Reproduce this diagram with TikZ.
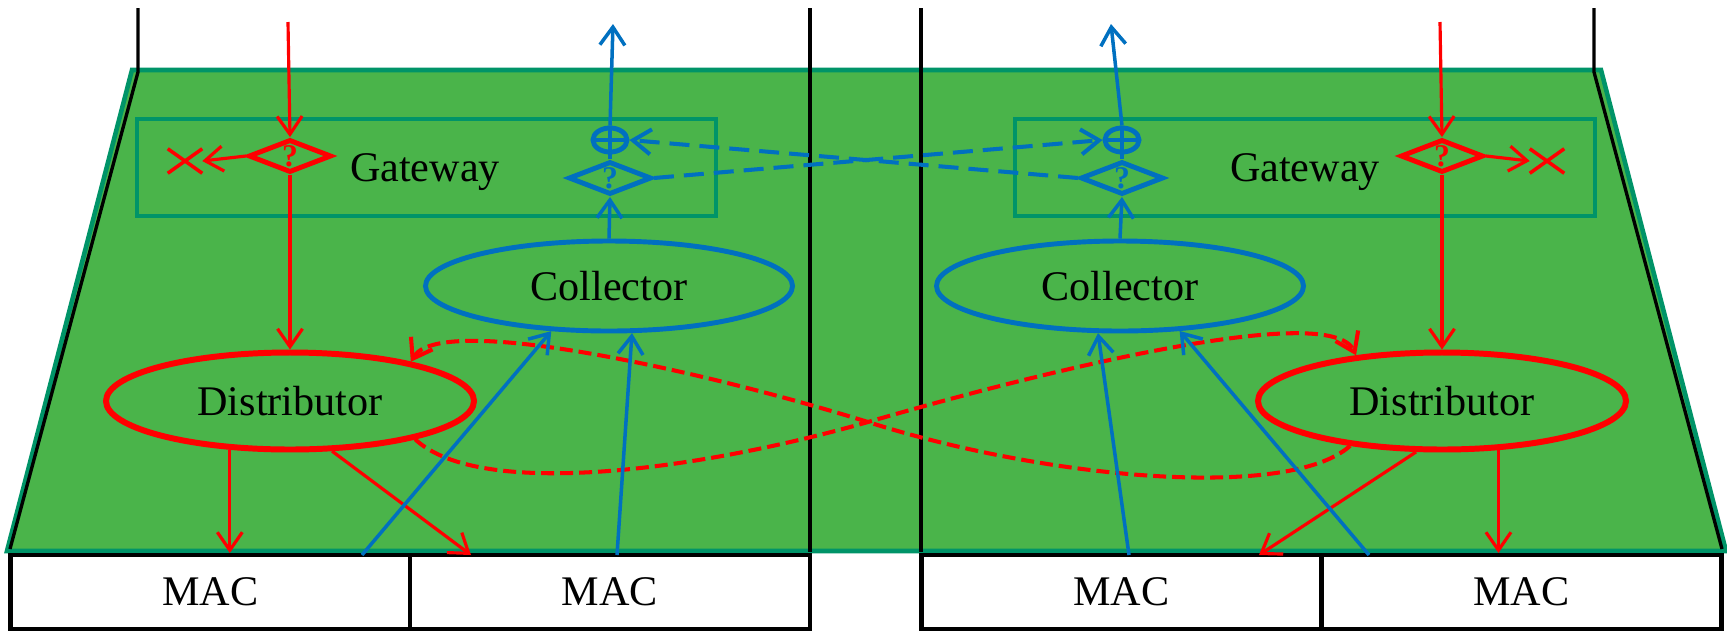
\documentclass[tikz,border=0pt]{standalone}
\usepackage{fontspec}
\setmainfont{Liberation Serif}
\usetikzlibrary{shapes.geometric, shapes.misc, arrows.meta}

\definecolor{boardgreen}{RGB}{74,180,74}
\definecolor{boardedge}{RGB}{0,148,104}
\definecolor{flowblue}{RGB}{0,112,192}

\tikzset{
  redline/.style={red, line width=0.9pt},
  blueline/.style={flowblue, line width=1pt},
  tip/.style={-{Straight Barb[length=1.8mm,width=2.5mm]}},
  reddash/.style={line width=1.15pt, dash pattern=on 1.3mm off 0.6mm},
  bluedash/.style={line width=1.15pt, dash pattern=on 2mm off 1mm},
  wall/.style={black, line width=0.95pt},
  gwbox/.style={rectangle, draw=boardedge, line width=1.15pt, inner sep=0pt},
  distnode/.style={ellipse, draw=red, line width=1.7pt, minimum width=36.8mm, minimum height=9.7mm},
  collnode/.style={ellipse, draw=flowblue, line width=1.4pt, minimum width=36.7mm, minimum height=9mm},
  redq/.style={diamond, draw=red, text=red, line width=1.4pt, font=\fontsize{9}{9}\selectfont\bfseries,
    inner sep=0pt, shape aspect=2.5, minimum width=8.3mm, minimum height=3.3mm},
  blueq/.style={redq, draw=flowblue, text=flowblue},
  plusnode/.style={ellipse, draw=flowblue, line width=1.4pt, inner sep=0pt, minimum width=3.4mm, minimum height=2.4mm},
  dropnode/.style={cross out, draw=red, line width=1pt, inner sep=0pt, minimum width=3.1mm, minimum height=2.1mm},
  macbox/.style={rectangle, draw=black, fill=white, line width=1.15pt, inner sep=0pt, minimum width=40mm, minimum height=7.4mm},
}

\begin{document}
\begin{tikzpicture}[x=0.1mm, y=-0.1mm, font=\fontsize{12}{14}\selectfont]
        \useasboundingbox (0,0) rectangle (1727,631);

        % board and walls
        \filldraw[fill=boardgreen, draw=boardedge, line width=1.3pt]
            (132,70) -- (1601,70) -- (1726,551) -- (7,551) -- cycle;
        \draw[wall] (138,8) -- (138,72) -- (10,549);
        \draw[wall] (1594,8) -- (1594,72) -- (1722,549);
        \draw[wall] (810,8) -- (810,552);
        \draw[wall] (921,8) -- (921,552);

        % gateways
        \node[gwbox, minimum width=57.9mm, minimum height=9.7mm] (gw1) at (426.5,167.5) {};
        \node[gwbox, minimum width=58mm, minimum height=9.7mm] (gw2) at (1305,167.5) {};
        \node (gw1t) at (425,172) {Gateway};
        \node (gw2t) at (1305,172) {Gateway};

        \node[redq] (rq1) at (290,156) {?};
        \node[redq] (rq2) at (1442,156) {?};
        \node[dropnode] (drop1) at (185,161) {};
        \node[dropnode] (drop2) at (1547,161) {};

        \node[plusnode] (op1) at (610,140) {};
        \node[plusnode] (op2) at (1122,140) {};
        \node[blueq] (bq1) at (610,178) {?};
        \node[blueq] (bq2) at (1122,178) {?};

        % collectors and distributors
        \node[collnode] (col1) at (609,286) {Collector};
        \node[collnode] (col2) at (1120,286) {Collector};
        \node[distnode] (dist1) at (290,401) {Distributor};
        \node[distnode] (dist2) at (1442,401) {Distributor};

        % MAC row
        \node[macbox] (mac1) at (210.5,592) {MAC};
        \node[macbox] (mac2) at (610,592) {MAC};
        \node[macbox] (mac3) at (1121.5,592) {MAC};
        \node[macbox] (mac4) at (1521.5,592) {MAC};

        \coordinate (redin1) at (288,22);
        \coordinate (redin2) at (1440,22);
        \coordinate (blueout1) at (613,24);
        \coordinate (blueout2) at (1111,24);
        \coordinate (m1b) at (362,555);
        \coordinate (m2b) at (617,555);
        \coordinate (m3b) at (1129,555);
        \coordinate (m4b) at (1369,555);
        \coordinate (m2r) at (471,555);
        \coordinate (m3r) at (1259,555);
        \coordinate (cross) at (868,422);

        % downstream (red)
        \draw[redline, tip] (redin1) -- (rq1.north);
        \draw[redline, tip] (redin2) -- (rq2.north);
        \draw[redline, tip] (rq1.west) -- (drop1.east);
        \draw[redline, tip] (rq2.east) -- (drop2.west);
        \draw[redline, tip] (rq1.south) -- (dist1.north);
        \draw[redline, tip] (rq2.south) -- (dist2.north);
        \draw[redline, tip] (dist1.219.5) -- (dist1.219.5 |- mac1.north);
        \draw[redline, tip] (dist1.310) -- (m2r);
        \draw[redline, tip] (dist2.319.3) -- (dist2.319.3 |- mac4.north);
        \draw[redline, tip] (dist2.243.5) -- (m3r);
        \draw[redline, reddash, tip] (dist1.-17) .. controls (480,500) and (700,470) .. (cross)
            .. controls (1040,372) and (1330,300) .. (dist2.152);
        \draw[redline, reddash, tip] (dist2.206) .. controls (1290,500) and (1050,480) .. (cross)
            .. controls (700,370) and (440,312) .. (dist1.18);

        % upstream (blue)
        \draw[blueline, tip] (m1b) -- (col1.218);
        \draw[blueline, tip] (m2b) -- (col1.296);
        \draw[blueline, tip] (m3b) -- (col2.245);
        \draw[blueline, tip] (m4b) -- (col2.323);
        \draw[blueline, tip] (col1.north) -- (bq1.south);
        \draw[blueline, tip] (col2.north) -- (bq2.south);
        \draw[blueline] (bq1.north) -- (op1.south);
        \draw[blueline] (bq2.north) -- (op2.south);
        \draw[flowblue, line width=1.4pt] (op1.north) -- (op1.south) (op1.west) -- (op1.east);
        \draw[flowblue, line width=1.4pt] (op2.north) -- (op2.south) (op2.west) -- (op2.east);
        \draw[blueline, tip] (op1.north) -- (blueout1);
        \draw[blueline, tip] (op2.north) -- (blueout2);
        \draw[blueline, bluedash, tip] (bq1.east) -- (op2.west);
        \draw[blueline, bluedash, tip] (bq2.west) -- (op1.east);

    \end{tikzpicture}
\end{document}
